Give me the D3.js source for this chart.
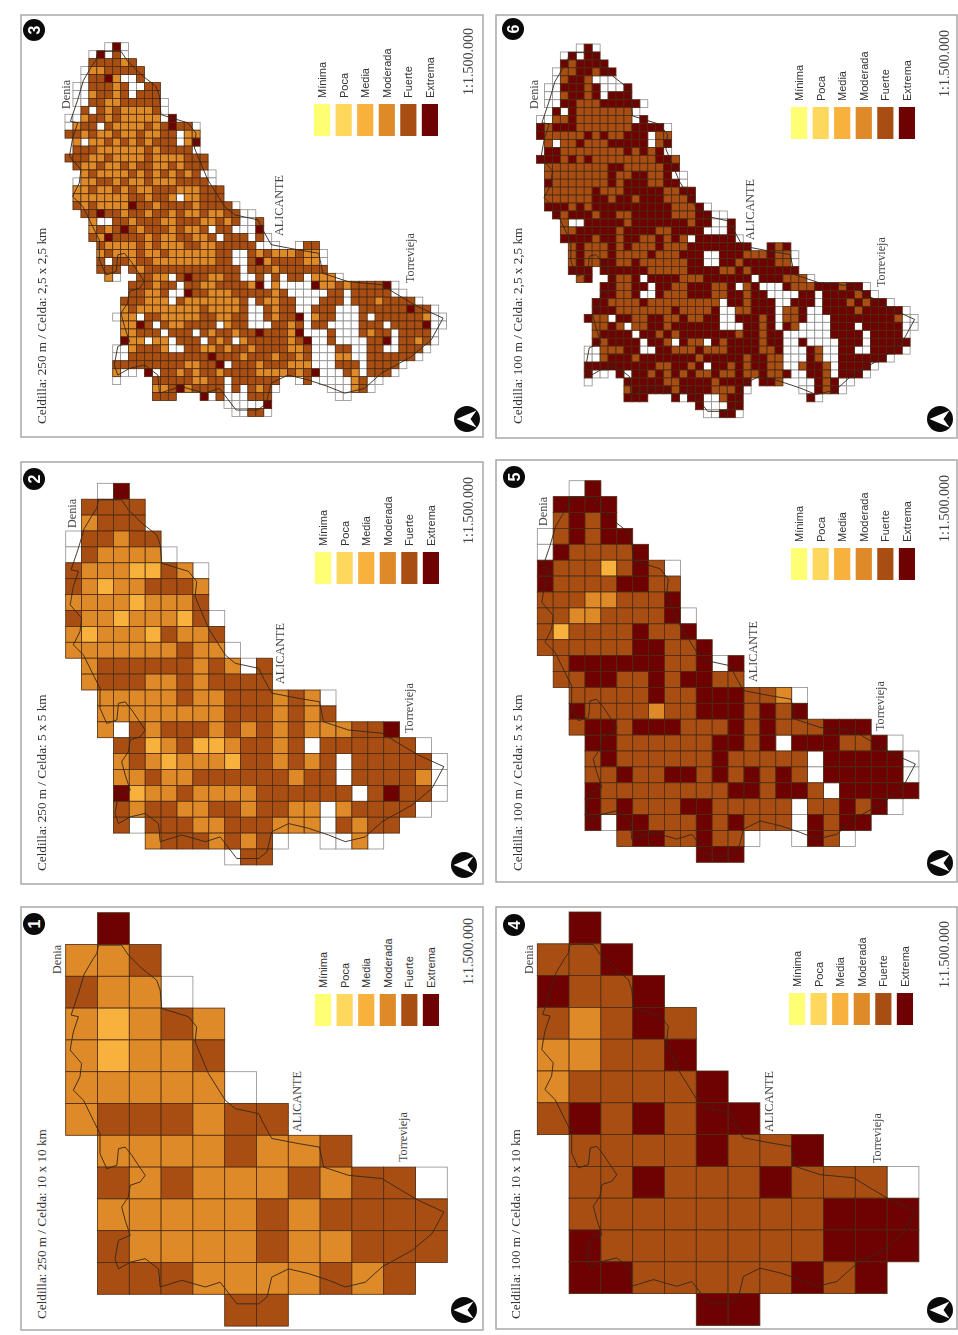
<!DOCTYPE html>
<html>
<head>
<meta charset="utf-8">
<title>Celdillas Alicante</title>
<script src="https://d3js.org/d3.v7.min.js"></script>
<style>
body { margin: 0; background: #fff; }
svg { display: block; filter: blur(0.4px); }
</style>
</head>
<body>
<div id="chart"></div>
<script>
// legend classes, the digit in the grids below is the index + 1
// 0 = empty cell (only outlined), . = no cell, spaces are only for reading
var categories = ['Mínima', 'Poca', 'Media', 'Moderada', 'Fuerte', 'Extrema'];
var classColors = ['#ffff73', '#fed85c', '#f7b13c', '#de8a28', '#a94e12', '#6e0202'];
var cityNames = ['Denia', 'ALICANTE', 'Torrevieja'];
var scaleLabel = '1:1.500.000';

var grid1 = [
  '.6',
  '445',
  '5440',
  '43454',
  '43445',
  '44444 0',
  '45554 55',
  '.4444 5445',
  '.5454 44545 50',
  '.4444 45455 55',
  '.5444 45445 55',
  '.5554 44454 5',
  '..... 55'
];
var grid4 = [
  '.6',
  '556',
  '6556',
  '54565',
  '44556',
  '45555 6',
  '56565 66',
  '.5555 6556',
  '.5565 55655 50',
  '.5555 55556 66',
  '.6555 55556 66',
  '.6655 55565 6',
  '..... 66'
];

// 5 x 5 km maps
var grid2 = [
  '..06',
  '.5555',
  '.4555',
  '05545 5',
  '05444 40',
  '54443 3540',
  '54344 5554',
  '44443 4445',
  '54434 44350',
  '43444 35445',
  '44444 44544 0',
  '.4555 55545 405',
  '.4555 44545 555',
  '..444 44544 55545 40',
  '..444 44444 55545 45',
  '..405 45554 54545 44455 6',
  '...55 34533 45545 05555 550',
  '...45 43444 35545 45055 5550',
  '...44 54455 55554 55055 5540',
  '...63 44544 44555 55505 6550',
  '...54 55445 54554 40455 550',
  '...50 55544 55544 40545 5',
  '..... 45554 5450. .0040',
  '..... ..... 055'
];
var grid5 = [
  '..06',
  '.6666',
  '.5656',
  '05656 6',
  '06555 56',
  '65553 5650',
  '65555 6655',
  '55544 5556',
  '55445 55560',
  '53555 56556',
  '55555 56655 6',
  '.5666 66655 606',
  '.5566 55656 655',
  '..555 55655 66655 40',
  '..655 55455 66656 56',
  '..566 56665 55656 55566 6',
  '...66 55555 56656 06665 560',
  '...56 55555 56555 55066 6660',
  '...55 65566 56565 65066 6660',
  '...65 55555 55665 66506 6666',
  '...65 65556 65555 50556 560',
  '...60 66555 65655 50656 6',
  '..... 56655 6550. .0650',
  '..... ..... 666'
];

// 2,5 x 2,5 km maps
var grid3 = [
  '.....060',
  '...06050',
  '...555545',
  '..04455555',
  '..05564005',
  '.0055 54500 55',
  '.0045 54505 55',
  '.0055 44555 550',
  '..505 45444 450',
  '00455 45444 4406',
  '04550 54444 54565 50',
  '55454 45445 44550 44',
  '.4044 54545 45550 46',
  '.5554 44444 54555 50',
  '55544 54444 54444 555',
  '.5445 44545 54454 555',
  '..454 44454 54545 4500',
  '.0445 54544 54445 5550',
  '.4454 45454 45554 44555',
  '.4444 44455 45540 44555',
  '.5454 44465 54555 54555 50',
  '..556 55455 45545 44544 5500',
  '...40 05545 55445 55445 45005',
  '...45 45654 55545 44505 50006',
  '...54 65555 45445 54450 55505 0',
  '....5 44445 45444 55445 55550 00..0 55',
  '....4 54445 44544 44445 50054 54445 440',
  '....5 05545 54444 44445 50056 45555 440',
  '....5 55.54 55555 55555 55055 54555 555',
  '..... 40..5 54405 65544 55005 05055 04440',
  '..... ...55 54550 55445 55546 04000 06445 45555 60',
  '..... ...55 44500 65544 45555 54500 00055 05555 500',
  '..... ..555 44405 44444 44505 44550 00555 05554 55550',
  '..... ..454 44444 44544 44500 54550 05550 00555 55565 50',
  '..... .0440 55444 44554 45500 54556 04550 00505 55555 400',
  '..... ..446 50544 55550 45500 05545 05500 00555 05555 600',
  '..... ..445 55055 50545 54556 55546 00050 00545 50555 50',
  '..... ..644 04405 55054 50455 55545 60050 00055 60554 50',
  '..... .0045 55400 55445 45545 55544 50005 50055 00555 0',
  '..... .0055 55555 55565 55455 54554 50004 40055 55550',
  '..... .5555 55555 44556 05554 55544 40005 55055 550',
  '..... .400. 60554 54554 55554 44454 56000 54055 50',
  '..... .0... .5555 54455 05555 55..0 5.000 04500',
  '..... ..... .4456 45555 05054 50... ...00 0450',
  '..... ..... .555. ..605 00055 5.... ....0 0',
  '..... ..... ..... ..... 00000 6',
  '..... ..... ..... ..... .0055 0'
];
var grid6 = [
  '.....060',
  '...06066',
  '...656666',
  '..05566566',
  '..05665000',
  '.0066 65600 06',
  '.0056 65606 66',
  '.0066 55566 6660',
  '..606 55555 550',
  '00556 55555 5506',
  '65666 55555 55666 60',
  '65555 56565 56660 55',
  '.5055 65556 66660 56',
  '.6655 55555 56565 60',
  '66656 56555 55555 665',
  '.5555 55556 65555 566',
  '.5555 55556 55665 5600',
  '.6555 55556 56665 5660',
  '.5555 55655 56666 65566',
  '.5555 55665 66566 65556',
  '.6665 65666 66666 66555 60',
  '..656 66566 55666 66555 6600',
  '...50 06666 65666 66665 66006',
  '...55 66666 56666 55666 60006',
  '...66 66566 56655 65650 66666 0',
  '....5 65556 56555 65556 66666 66..6 56',
  '....5 65556 55556 55566 60066 65556 550',
  '....5 65566 55655 55556 60066 56666 550',
  '....6 66.66 66665 55556 66655 65666 666',
  '..... 56..6 55606 66655 56666 66066 65550',
  '..... ...66 55660 66556 66556 05600 06555 66656 60',
  '..... ...66 55600 65556 66556 65660 00066 06666 560',
  '..... ..665 55565 55555 55506 65666 00666 06665 65660',
  '..... ..666 55555 55655 55600 55666 05560 06666 56666 60',
  '..... .6550 66556 65565 56600 66656 05560 00666 66666 500',
  '..... ..556 50556 65666 66600 06656 06500 00666 06666 600',
  '..... ..566 66066 56566 66666 56656 60000 00666 60666 60',
  '..... ..656 66606 65065 50656 66656 60060 00066 60666 66',
  '..... .0055 56600 66555 65556 66655 60006 50066 00666 60',
  '..... .0056 66566 66666 56666 65665 50006 50066 66660',
  '..... .6666 66666 55665 60665 65665 50056 65066 660',
  '..... .600. 60665 65656 55655 65565 56006 65066 60',
  '..... .0... .6666 65566 66566 66.66 5..00 65600',
  '..... ..... .5666 66566 66555 60... ...00 6560',
  '..... ..... .666. ..606 60056 6.... ....6 0',
  '..... ..... ..... ..... 60006 6',
  '..... ..... ..... ..... .0066 0'
];

// province border, [km east, km south] from the corner of the 10 km grid
var provinceOutline = [
  [9.8,12.8],[8.7,14.4],[5.8,19.3],[4.0,25.4],[1.7,32.2],[4.0,32.7],[2.4,37.5],[1.4,43.2],
  [5.0,47.4],[4.5,51.6],[2.4,55.8],[5.6,59.0],[8.7,65.3],[10.8,69.5],[10.8,75.8],[12.9,80.5],
  [16.1,79.4],[16.6,74.2],[18.7,73.7],[20.8,76.3],[25.0,82.6],[23.4,84.7],[20.3,85.7],[19.7,89.4],
  [17.6,92.5],[18.7,96.7],[20.3,101.5],[16.6,103.0],[15.5,108.8],[16.6,112.0],[20.3,109.9],[25.0,108.8],
  [29.2,112.0],[29.7,117.7],[36.5,115.6],[43.9,117.7],[48.6,116.2],[53.8,123.0],[60.7,123.0],[63.3,120.9],
  [64.8,114.6],[70.1,112.0],[76.4,113.5],[82.7,115.6],[87.9,117.7],[94.2,116.2],[99.5,111.4],[108.9,106.2],
  [115.2,100.9],[118.9,94.1],[111.0,90.5],[104.7,86.8],[99.5,83.6],[89.0,82.6],[81.1,80.0],[79.8,73.7],
  [73.2,72.6],[64.8,71.0],[62.2,66.3],[60.7,63.2],[53.3,61.6],[50.2,59.0],[44.9,50.6],[40.7,40.6],
  [41.2,35.9],[38.6,32.7],[30.2,30.1],[29.7,24.3],[28.6,21.2],[23.9,17.5],[19.7,13.3],[17.6,10.2],
  [14.5,10.2],[10.3,10.2]
];

// page layout of every panel: frame, where the km origin falls, legend and labels
var pxPerKm = 3.18;
var panels = [
  {n: 1, grid: grid1, cellKm: 10, startKm: 0, caption: 'Celdilla: 250 m / Celda: 10 x 10 km',
   frame: [21, 907, 483, 1330], origin: [65.7, 912.7], capX: 41, capY: 1319, scaleAt: [468, 985],
   badge: [34, 924], north: [464, 1310], legendX: 315, legendY: 994,
   cities: [[57, 974], [297, 1132], [403, 1162]]},
  {n: 2, grid: grid2, cellKm: 5, startKm: 5, caption: 'Celdilla: 250 m / Celda: 5 x 5 km',
   frame: [21, 462, 483, 884], origin: [65.7, 467.4], capX: 41, capY: 871, scaleAt: [468, 544],
   badge: [34, 479], north: [464, 865], legendX: 315, legendY: 552,
   cities: [[72, 528], [280, 684], [409, 733]]},
  {n: 3, grid: grid3, cellKm: 2.5, startKm: 7.5, caption: 'Celdilla: 250 m / Celda: 2,5 x 2,5 km',
   frame: [21, 15, 483, 437], origin: [65, 18.9], capX: 41, capY: 424, scaleAt: [468, 95],
   badge: [34, 30], north: [467, 419], legendX: 314, legendY: 104,
   cities: [[66, 109], [279, 236], [410, 283]]},
  {n: 4, grid: grid4, cellKm: 10, startKm: 0, caption: 'Celdilla: 100 m / Celda: 10 x 10 km',
   frame: [496, 907, 957, 1329], origin: [537.3, 912], capX: 515, capY: 1319, scaleAt: [944, 988],
   badge: [514, 925], north: [940, 1310], legendX: 789, legendY: 993,
   cities: [[529, 974], [769, 1132], [877, 1163]]},
  {n: 5, grid: grid5, cellKm: 5, startKm: 5, caption: 'Celdilla: 100 m / Celda: 5 x 5 km',
   frame: [496, 460, 957, 882], origin: [537.3, 464.8], capX: 517, capY: 871, scaleAt: [944, 542],
   badge: [514, 477], north: [940, 863], legendX: 791, legendY: 548,
   cities: [[543, 526], [753, 682], [880, 731]]},
  {n: 6, grid: grid6, cellKm: 2.5, startKm: 7.5, caption: 'Celdilla: 100 m / Celda: 2,5 x 2,5 km',
   frame: [496, 15, 957, 438], origin: [536.5, 20.2], capX: 517, capY: 424, scaleAt: [944, 97],
   badge: [513, 29], north: [940, 419], legendX: 791, legendY: 107,
   cities: [[534, 109], [750, 240], [881, 287]]}
];

var svg = d3.select('#chart').append('svg')
  .attr('width', 958)
  .attr('height', 1335);

var classColor = d3.scaleOrdinal()
  .domain(d3.range(1, 7))
  .range(classColors);

// legend swatches, one band per class
var legendBand = d3.scaleBand()
  .domain(categories)
  .range([0, 124])
  .paddingInner(0.25)
  .paddingOuter(0);

function upText(g, x, y, txt, font, size, fill) {
  return g.append('text')
    .attr('transform', 'translate(' + x + ',' + y + ') rotate(-90)')
    .attr('font-family', font)
    .attr('font-size', size)
    .attr('fill', fill)
    .attr('dominant-baseline', 'central')
    .text(txt);
}

function cellsOf(grid) {
  var out = [];
  grid.forEach(function(line, row) {
    line.replace(/ /g, '').split('').forEach(function(ch, col) {
      if (ch != '.') out.push({row: row, col: col, v: +ch});
    });
  });
  return out;
}

panels.forEach(function(p) {
  var g = svg.append('g').attr('class', 'panel-' + p.n);

  g.append('rect')
    .attr('x', p.frame[0])
    .attr('y', p.frame[1])
    .attr('width', p.frame[2] - p.frame[0])
    .attr('height', p.frame[3] - p.frame[1])
    .attr('fill', '#fff')
    .attr('stroke', '#a8a8a8')
    .attr('stroke-width', 1.5);

  var xKm = d3.scaleLinear().domain([0, 120]).range([p.origin[0], p.origin[0] + 120 * pxPerKm]);
  var yKm = d3.scaleLinear().domain([0, 130]).range([p.origin[1], p.origin[1] + 130 * pxPerKm]);
  var size = xKm(p.cellKm) - xKm(0);
  var cells = cellsOf(p.grid);

  // empty cells first so the darker lines stay on top
  cells.sort(function(a, b) { return (a.v > 0) - (b.v > 0); });

  g.append('g').selectAll('rect')
    .data(cells)
    .enter().append('rect')
      .attr('x', function(d) { return xKm(d.col * p.cellKm); })
      .attr('y', function(d) { return yKm(p.startKm + d.row * p.cellKm); })
      .attr('width', size)
      .attr('height', size)
      .attr('fill', function(d) { return d.v ? classColor(d.v) : '#fff'; })
      .attr('stroke', function(d) { return d.v ? '#4b2a12' : '#8f8f8f'; })
      .attr('stroke-width', 0.8);

  var line = d3.line()
    .x(function(d) { return xKm(d[0]); })
    .y(function(d) { return yKm(d[1]); });

  g.append('path')
    .attr('d', line(provinceOutline) + 'Z')
    .attr('fill', 'none')
    .attr('stroke', '#33261c')
    .attr('stroke-width', 0.9);

  // captions and place names
  upText(g, p.capX, p.capY, p.caption, 'Liberation Serif', 13.2, '#333');
  upText(g, p.scaleAt[0], p.scaleAt[1], scaleLabel, 'Liberation Serif', 14, '#444');
  cityNames.forEach(function(name, i) {
    upText(g, p.cities[i][0], p.cities[i][1], name, 'Liberation Serif', 12.2, '#444');
  });

  // legend
  var legend = g.append('g')
    .attr('transform', 'translate(' + p.legendX + ',' + p.legendY + ')');
  legend.selectAll('rect')
    .data(categories)
    .enter().append('rect')
      .attr('x', function(d) { return legendBand(d); })
      .attr('y', 0)
      .attr('width', legendBand.bandwidth())
      .attr('height', 32)
      .attr('fill', function(d, i) { return classColors[i]; });
  categories.forEach(function(c) {
    upText(legend, legendBand(c) + legendBand.bandwidth() / 2, -6, c, 'Liberation Sans', 11, '#333');
  });

  // panel number
  g.append('circle')
    .attr('cx', p.badge[0])
    .attr('cy', p.badge[1])
    .attr('r', 11)
    .attr('fill', '#0a0a0a');
  upText(g, p.badge[0], p.badge[1], p.n, 'Liberation Sans', 16, '#fff')
    .attr('font-weight', 'bold')
    .attr('text-anchor', 'middle');

  // north arrow, points left because the sheet is turned
  var north = g.append('g')
    .attr('transform', 'translate(' + p.north[0] + ',' + p.north[1] + ')');
  north.append('circle').attr('r', 13).attr('fill', '#0a0a0a');
  north.append('path')
    .attr('d', 'M-10.5,0L9.5,-8.5L3.5,0L9.5,8.5Z')
    .attr('fill', '#fff');
});
</script>
</body>
</html>
